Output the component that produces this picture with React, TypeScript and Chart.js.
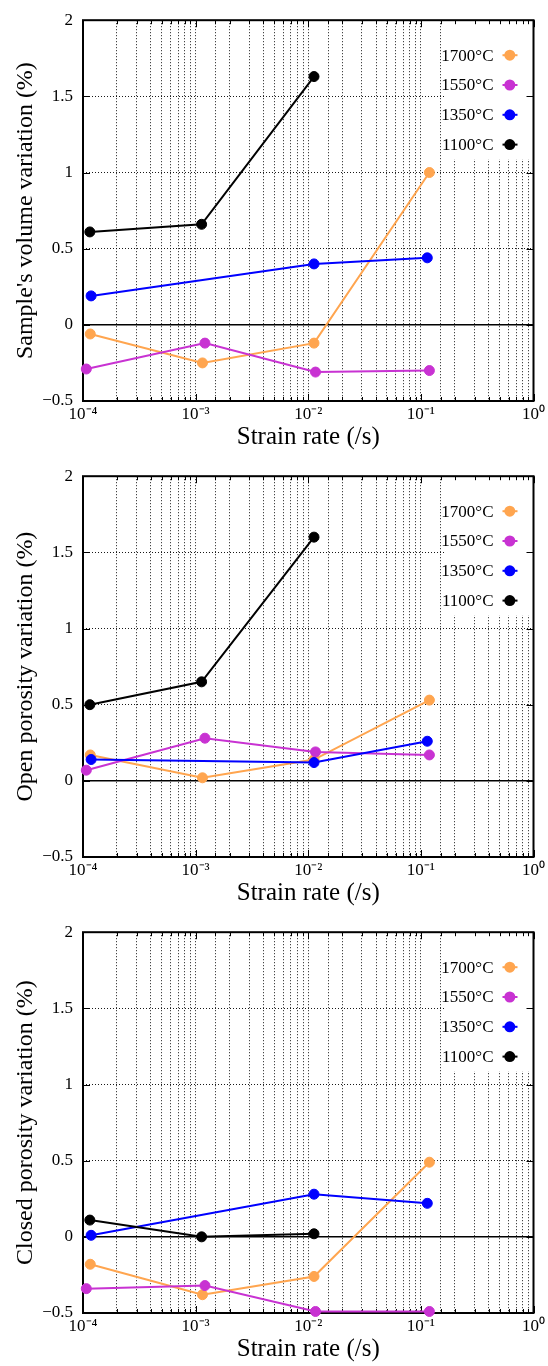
import React, { useEffect, useRef } from 'react';
import { Chart, registerables } from 'chart.js';

Chart.register(...registerables);

// ---- data ----
const temperatures = ['1700°C', '1550°C', '1350°C', '1100°C'];
const seriesColors = ['#ffa54f', '#c832d2', '#0000ff', '#000000'];

// strain rates (/s) for each temperature
const rate1700 = [1.16e-4, 1.15e-3, 1.125e-2, 0.119];
const rate1550 = [1.07e-4, 1.21e-3, 1.16e-2, 0.119];
const rate1350 = [1.18e-4, 1.125e-2, 0.114];
const rate1100 = [1.15e-4, 1.13e-3, 1.125e-2];

// Sample's volume variation (%)
const volume1700 = [-0.06, -0.25, -0.12, 1.0];
const volume1550 = [-0.29, -0.12, -0.31, -0.3];
const volume1350 = [0.19, 0.4, 0.44];
const volume1100 = [0.61, 0.66, 1.63];

// Open porosity variation (%)
const open1700 = [0.17, 0.02, 0.14, 0.53];
const open1550 = [0.07, 0.28, 0.19, 0.17];
const open1350 = [0.14, 0.12, 0.26];
const open1100 = [0.5, 0.65, 1.6];

// Closed porosity variation (%)
const closed1700 = [-0.18, -0.38, -0.26, 0.49];
const closed1550 = [-0.34, -0.32, -0.49, -0.49];
const closed1350 = [0.01, 0.28, 0.22];
const closed1100 = [0.11, 0.0, 0.02];

const yTickValues = [-0.5, 0, 0.5, 1, 1.5, 2];
const yTickLabels = ['\u22120.5', '0', '0.5', '1', '1.5', '2'];
const xTickLabels = ['10\u207B\u2074', '10\u207B\u00B3', '10\u207B\u00B2', '10\u207B\u00B9', '10\u2070'];

const xTitle = 'Strain rate (/s)';
const panelTitles = [
  "Sample's volume variation (%)",
  'Open porosity variation (%)',
  'Closed porosity variation (%)',
];

const rates = [rate1700, rate1550, rate1350, rate1100];
const panelValues = [
  [volume1700, volume1550, volume1350, volume1100],
  [open1700, open1550, open1350, open1100],
  [closed1700, closed1550, closed1350, closed1100],
];

const FONT = '"Liberation Serif", "Times New Roman", serif';

const decorPlugin = {
  id: 'decor',
  beforeDatasetsDraw(chart: any) {
    const { ctx, chartArea: a, scales } = chart;
    const xs = scales.x;
    const ys = scales.y;
    ctx.save();
    // opaque key box
    ctx.fillStyle = '#ffffff';
    ctx.fillRect(a.right - 88, a.top, 88, 139);
    // zero line
    const y0 = ys.getPixelForValue(0);
    ctx.strokeStyle = '#000';
    ctx.lineWidth = 1.5;
    ctx.beginPath();
    ctx.moveTo(a.left, y0);
    ctx.lineTo(a.right, y0);
    ctx.stroke();
    // inner tick marks
    ctx.lineWidth = 1;
    ctx.beginPath();
    xs.ticks.forEach((t: any) => {
      const lg = Math.log10(t.value);
      const major = Math.abs(lg - Math.round(lg)) < 1e-6;
      const len = major ? 7 : 4;
      const px = Math.round(xs.getPixelForValue(t.value)) + 0.5;
      ctx.moveTo(px, a.bottom);
      ctx.lineTo(px, a.bottom - len);
      ctx.moveTo(px, a.top);
      ctx.lineTo(px, a.top + len);
    });
    ys.ticks.forEach((t: any) => {
      const py = Math.round(ys.getPixelForValue(t.value)) + 0.5;
      ctx.moveTo(a.left, py);
      ctx.lineTo(a.left + 7, py);
      ctx.moveTo(a.right, py);
      ctx.lineTo(a.right - 7, py);
    });
    ctx.stroke();
    // frame
    ctx.lineWidth = 2;
    ctx.strokeRect(a.left, a.top, a.right - a.left, a.bottom - a.top);
    ctx.restore();
  },
  afterDatasetsDraw(chart: any) {
    const { ctx, chartArea: a } = chart;
    ctx.save();
    ctx.font = '17px ' + FONT;
    ctx.textAlign = 'right';
    ctx.textBaseline = 'middle';
    chart.data.datasets.forEach((ds: any, i: number) => {
      const cy = a.top + 35 + i * 29.8;
      ctx.fillStyle = '#000';
      ctx.fillText(ds.label, a.right - 40, cy + 1);
      ctx.strokeStyle = ds.borderColor;
      ctx.lineWidth = 2;
      ctx.beginPath();
      ctx.moveTo(a.right - 31, cy);
      ctx.lineTo(a.right - 16, cy);
      ctx.stroke();
      ctx.fillStyle = ds.borderColor;
      ctx.beginPath();
      ctx.arc(a.right - 23.7, cy, 5.5, 0, Math.PI * 2);
      ctx.fill();
    });
    ctx.restore();
  },
};

function Panel({ index }: { index: number }) {
  const ref = useRef<HTMLCanvasElement | null>(null);
  useEffect(() => {
    if (!ref.current) return;
    const values = panelValues[index];
    const datasets = temperatures.map((label, i) => ({
      label,
      data: rates[i].map((x, j) => ({ x, y: values[i][j] })),
      borderColor: seriesColors[i],
      backgroundColor: seriesColors[i],
      pointBackgroundColor: seriesColors[i],
      pointBorderColor: seriesColors[i],
      pointRadius: 5,
      pointHoverRadius: 5,
      pointBorderWidth: 1,
      borderWidth: 2,
      tension: 0,
      clip: false,
      order: temperatures.length - i,
    }));
    const chart = new Chart(ref.current, {
      type: 'line',
      data: { datasets },
      options: {
        animation: false,
        responsive: true,
        maintainAspectRatio: false,
        layout: { padding: { top: 11, right: 13, left: 0, bottom: 0 } },
        plugins: { legend: { display: false }, tooltip: { enabled: false } },
        events: [],
        scales: {
          x: {
            type: 'logarithmic',
            min: 1e-4,
            max: 1,
            afterFit: (s: any) => {
              s.height = 55;
            },
            grid: {
              color: 'rgba(0,0,0,0.9)',
              lineWidth: 1,
              drawTicks: false,
            },
            border: { display: false, dash: [1, 2] },
            ticks: {
              autoSkip: false,
              maxRotation: 0,
              padding: 3,
              color: '#000',
              font: { family: FONT, size: 17 },
              callback: (v: any) => {
                const e = Math.log10(Number(v));
                if (Math.abs(e - Math.round(e)) < 1e-6) {
                  return xTickLabels[Math.round(e) + 4] ?? '';
                }
                return '';
              },
            },
            title: {
              display: true,
              text: xTitle,
              color: '#000',
              font: { family: FONT, size: 25 },
              padding: { top: 0, bottom: 4 },
            },
          },
          y: {
            type: 'linear',
            min: -0.5,
            max: 2,
            afterFit: (s: any) => {
              s.width = 83;
            },
            afterBuildTicks: (s: any) => {
              s.ticks = yTickValues.map((v) => ({ value: v }));
            },
            grid: {
              color: 'rgba(0,0,0,0.9)',
              lineWidth: 1,
              drawTicks: false,
            },
            border: { display: false, dash: [1, 2] },
            ticks: {
              padding: 10,
              color: '#000',
              font: { family: FONT, size: 17 },
              callback: (v: any) => {
                const k = yTickValues.findIndex((t) => Math.abs(t - Number(v)) < 1e-9);
                return k >= 0 ? yTickLabels[k] : '';
              },
            },
            title: {
              display: true,
              text: panelTitles[index],
              color: '#000',
              font: { family: FONT, size: 24 },
              padding: { top: 11, bottom: 0 },
            },
          },
        },
      },
      plugins: [decorPlugin],
    } as any);
    return () => chart.destroy();
  }, [index]);
  return (
    <div style={{ position: 'relative', width: 548, height: 456 }}>
      <canvas ref={ref} />
    </div>
  );
}

export default function App() {
  return (
    <div style={{ position: 'absolute', left: 0, top: 0, width: 548, background: '#fff' }}>
      {panelTitles.map((_, i) => (
        <Panel key={i} index={i} />
      ))}
    </div>
  );
}
